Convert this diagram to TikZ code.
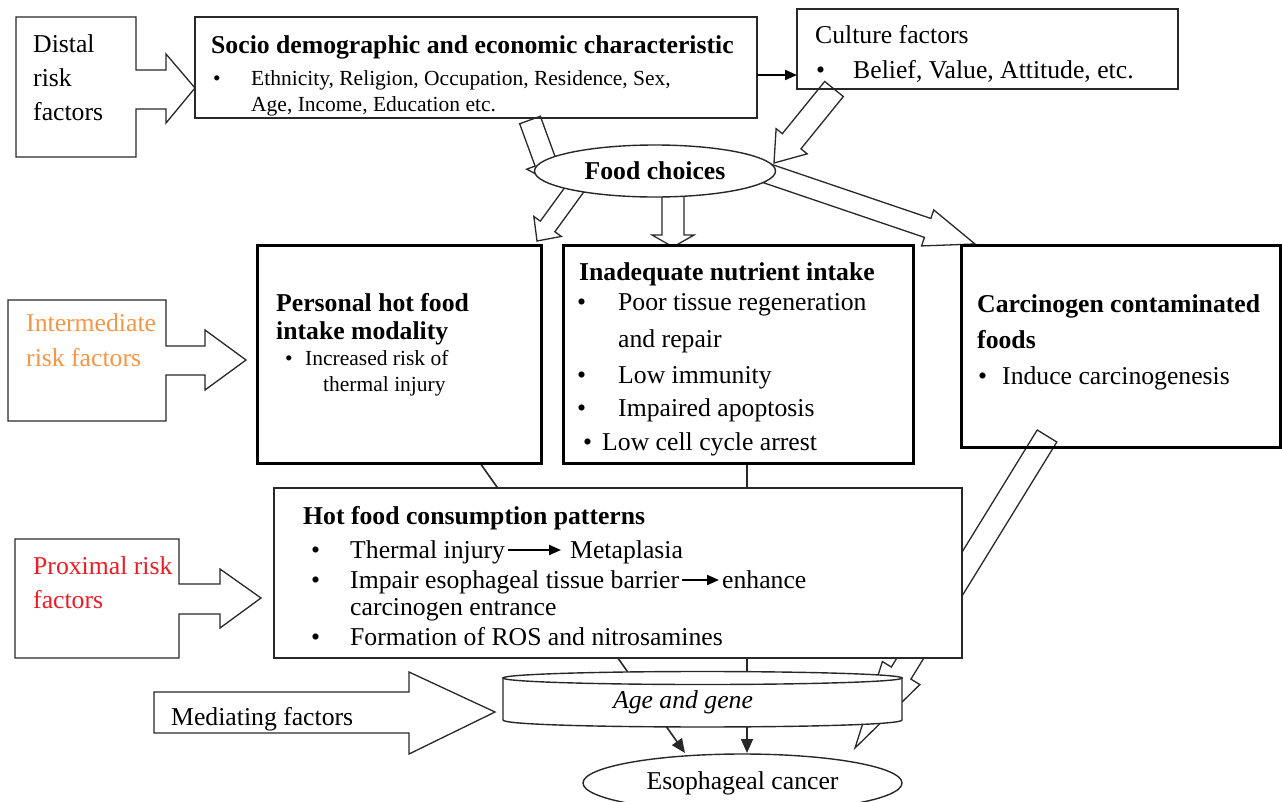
\documentclass[tikz,border=0pt]{standalone}
\usepackage{fontspec}
\setmainfont{Liberation Serif}
\usetikzlibrary{calc,arrows.meta,shapes.geometric}
\definecolor{lc}{RGB}{40,40,40}
\definecolor{orng}{RGB}{247,150,70}
\definecolor{rd}{RGB}{237,28,36}
\newcommand{\blockarrow}[5]{%
  \coordinate (ba-b) at ($(#2)!#5pt!(#1)$);
  \draw[blk] ($(#1)!#3pt!90:(#2)$) -- ($(ba-b)!#3pt!90:(#2)$) -- ($(ba-b)!#4pt!90:(#2)$) -- (#2) -- ($(ba-b)!#4pt!-90:(#2)$) -- ($(ba-b)!#3pt!-90:(#2)$) -- ($(#1)!#3pt!-90:(#2)$) -- cycle;}
\tikzset{
 blk/.style={draw=lc, fill=white, line width=1.3pt, line join=miter},
 thinbox/.style={rectangle, draw=lc, line width=1.4pt, inner sep=0pt},
 thickbox/.style={rectangle, draw=black, line width=3pt, inner sep=0pt},
 txt/.style={anchor=base west, inner sep=0pt, font=\fontsize{25.7}{30}\selectfont},
 txtb/.style={anchor=base west, inner sep=0pt, font=\fontsize{25.7}{30}\selectfont\bfseries},
 sml/.style={anchor=base west, inner sep=0pt, font=\fontsize{21.5}{26}\selectfont},
 conn/.style={draw=lc, line width=1.6pt, -{Triangle[length=14pt,width=12pt]}},
 inl/.style={draw=black, line width=2pt, -{Triangle[length=12pt,width=10pt]}},
 ell/.style={ellipse, draw=lc, line width=1.4pt, fill=white, inner sep=0pt},
}
\begin{document}
\begin{tikzpicture}[x=1pt,y=-1pt]
\useasboundingbox (0,0) rectangle (1282,801);
\fill[white] (0,0) rectangle (1282,801);
\clip (0,0) rectangle (1282,801);

% ---- lower ellipse (cancer)
\node[ell, minimum width=319pt, minimum height=58pt, font=\fontsize{25.7}{30}\selectfont] (canc) at (742.5,783) {Esophageal cancer};

% ---- connectors behind boxes
\coordinate (p-out) at (480,463);
\coordinate (p-in) at (685,753);
\coordinate (i-out) at (747,463);
\coordinate (i-in) at (747,753);
\draw[conn] (p-out) -- (p-in);
\draw[conn] (i-out) -- (i-in);

% ---- carcinogen block arrow
\coordinate (c-s) at (1047,436);
\coordinate (c-e) at (855,748);
\blockarrow{c-s}{c-e}{11.5}{22}{88}

% ---- hot food box
\node[thinbox, fill=white, minimum width=688pt, minimum height=170pt] (hot) at (618,573) {};
\node[txtb] (hot-t) at (303,524) {Hot food consumption patterns};
\node[txt] (hot-b1) at (311,558) {\textbullet};
\node[txt] (hot-l1) at (350,558) {Thermal injury};
\coordinate (h1s) at (508,550);
\coordinate (h1e) at (561,550);
\draw[inl] (h1s) -- (h1e);
\node[txt] (hot-l1b) at (570,558) {Metaplasia};
\node[txt] (hot-b2) at (311,588) {\textbullet};
\node[txt] (hot-l2) at (350,588) {Impair esophageal tissue barrier};
\coordinate (h2s) at (682,580);
\coordinate (h2e) at (719,580);
\draw[inl] (h2s) -- (h2e);
\node[txt] (hot-l2b) at (722,588) {enhance};
\node[txt] (hot-l3) at (350,615) {carcinogen entrance};
\node[txt] (hot-b3) at (311,645) {\textbullet};
\node[txt] (hot-l4) at (350,645) {Formation of ROS and nitrosamines};

% ---- cylinder
\draw[draw=lc, line width=1.4pt, fill=white] (503,678) -- (503,720) .. controls (503,729.3) and (902,729.3) .. (902,720) -- (902,678) -- cycle;
\draw[draw=lc, line width=1.4pt, fill=white] (702.5,678) ellipse [x radius=199.5, y radius=6.5];
\node[anchor=base, inner sep=0pt, font=\fontsize{25.7}{30}\selectfont\itshape] (age) at (683,708) {Age and gene};

% ---- mediating arrow
\draw[blk] (154,692) -- (409,692) -- (409,672) -- (495,712) -- (409,754) -- (409,733) -- (154,733) -- cycle;
\node[txt] (med) at (171,725) {Mediating factors};

% ---- proximal callout
\draw[blk] (15,539) -- (179,539) -- (179,584) -- (220,584) -- (220,569) -- (261,598) -- (220,628) -- (220,614) -- (179,614) -- (179,658) -- (15,658) -- cycle;
\node[txt, text=rd] (prox1) at (33,574) {Proximal risk};
\node[txt, text=rd] (prox2) at (33,608) {factors};

% ---- intermediate callout
\draw[blk] (8,300) -- (166,300) -- (166,346) -- (205,346) -- (205,330) -- (246,360) -- (205,390) -- (205,375) -- (166,375) -- (166,421) -- (8,421) -- cycle;
\node[txt, text=orng] (int1) at (26,331) {Intermediate};
\node[txt, text=orng] (int2) at (26,366) {risk factors};

% ---- distal callout
\draw[blk] (16,17) -- (136,17) -- (136,70) -- (166,70) -- (166,54) -- (195,88) -- (166,123) -- (166,109) -- (136,109) -- (136,157) -- (16,157) -- cycle;
\node[txt] (dis1) at (33,52) {Distal};
\node[txt] (dis2) at (33,86) {risk};
\node[txt] (dis3) at (33,120) {factors};

% ---- block arrows around food choices
\coordinate (a1s) at (530,120);
\coordinate (a1e) at (553,183);
\blockarrow{a1s}{a1e}{11}{20}{22}
\coordinate (a2s) at (834,89);
\coordinate (a2e) at (774,163);
\blockarrow{a2s}{a2e}{12}{20}{28}
\coordinate (a3s) at (577,186);
\coordinate (a3e) at (537,241);
\blockarrow{a3s}{a3e}{9}{17}{18}
\coordinate (a4s) at (673,190);
\coordinate (a4e) at (673,247);
\blockarrow{a4s}{a4e}{11}{21}{12}
\coordinate (a5s) at (760,171);
\coordinate (a5e) at (975,244);
\blockarrow{a5s}{a5e}{10}{19}{50}

\node[ell, minimum width=241pt, minimum height=52pt, font=\fontsize{25.7}{30}\selectfont\bfseries] (food) at (655,171) {Food choices};

% ---- personal box
\node[thickbox, fill=white, minimum width=284pt, minimum height=218pt] (pers) at (399,354) {};
\node[txtb] (pers-t1) at (276,311) {Personal hot food};
\node[txtb] (pers-t2) at (276,339) {intake modality};
\node[sml] (pers-b) at (285,365) {\textbullet};
\node[sml] (pers-l1) at (305,365) {Increased risk of};
\node[sml] (pers-l2) at (323,391) {thermal injury};

% ---- inadequate box
\node[thickbox, fill=white, minimum width=350pt, minimum height=218pt] (inad) at (738,354) {};
\node[txtb] (inad-t) at (579,280) {Inadequate nutrient intake};
\node[txt] (inad-b1) at (577,310) {\textbullet};
\node[txt] (inad-l1) at (618,310) {Poor tissue regeneration};
\node[txt] (inad-l1b) at (618,347) {and repair};
\node[txt] (inad-b2) at (577,383) {\textbullet};
\node[txt] (inad-l2) at (618,383) {Low immunity};
\node[txt] (inad-b3) at (577,416) {\textbullet};
\node[txt] (inad-l3) at (618,416) {Impaired apoptosis};
\node[txt] (inad-b4) at (583,450) {\textbullet};
\node[txt] (inad-l4) at (602,450) {Low cell cycle arrest};

% ---- carcinogen box
\node[thickbox, minimum width=319pt, minimum height=202pt] (carc) at (1120.5,346) {};
\node[txtb] (carc-t1) at (977,312) {Carcinogen contaminated};
\node[txtb] (carc-t2) at (977,348) {foods};
\node[txt] (carc-b) at (978,384) {\textbullet};
\node[txt] (carc-l) at (1002,384) {Induce carcinogenesis};

% ---- socio box
\node[thinbox, minimum width=562pt, minimum height=101pt] (socio) at (476,67.5) {};
\node[txtb] (socio-t) at (211,53) {Socio demographic and economic characteristic};
\node[sml] (socio-b) at (213,85) {\textbullet};
\node[sml] (socio-l1) at (251,85) {Ethnicity, Religion, Occupation, Residence, Sex,};
\node[sml] (socio-l2) at (251,111) {Age, Income, Education etc.};

% ---- culture box
\node[thinbox, minimum width=381pt, minimum height=80pt] (cult) at (987.5,49) {};
\node[txt] (cult-t) at (815,43) {Culture factors};
\node[txt] (cult-b) at (816,78) {\textbullet};
\node[txt] (cult-l) at (853,78) {Belief, Value, Attitude, etc.};

\coordinate (sc-s) at (757,75);
\coordinate (sc-e) at (797,75);
\draw[draw=black, line width=2pt, -{Triangle[length=12pt,width=10pt]}] (sc-s) -- (sc-e);
\end{tikzpicture}
\end{document}
